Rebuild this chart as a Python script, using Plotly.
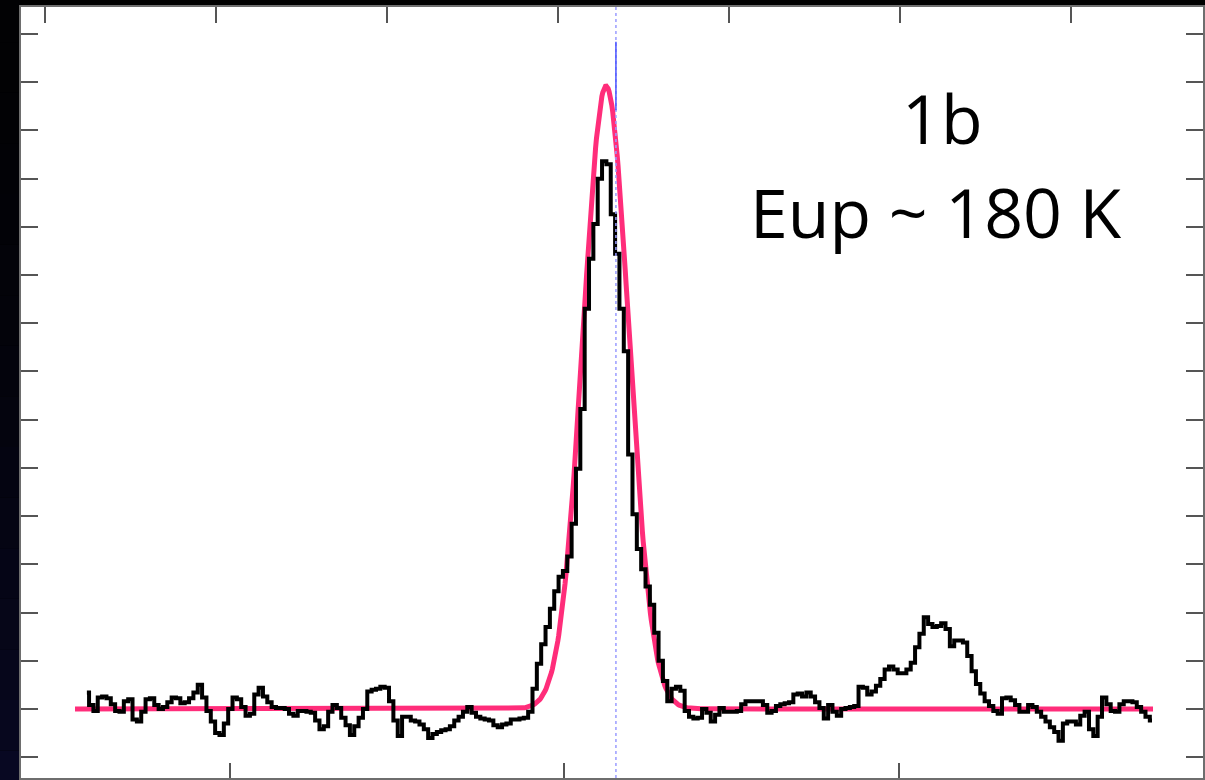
import numpy as np
import plotly.graph_objects as go

# Spectral channel grid (km/s)
V_START = -28.54
CHANNEL_WIDTH = 0.26

# Observed antenna temperature per channel (mK)
T_OBS = [
    17, 4, -2, 12, 13, 11, 5, -2, -3, 8,
    10, -11, -13, -3, 10, 11, 4, 0, 2, 7,
    12, 11, 6, 7, 11, 17, 25, 12, -2, -13,
    -25, -27, -15, 0, 12, 10, 2, -7, -5, 15,
    22, 13, 7, 2, 1, 1, 0, -5, -7, -2,
    -2, -3, -4, -12, -21, -18, -3, 4, 1, -9,
    -17, -27, -18, -9, 0, 18, 20, 21, 23, 22,
    8, -12, -28, -8, -8, -12, -13, -16, -21, -30,
    -26, -24, -22, -21, -18, -12, -8, -3, 2, -4,
    -8, -10, -11, -12, -17, -19, -16, -15, -11, -11,
    -10, -9, -3, 21, 47, 67, 85, 104, 122, 137,
    143, 158, 192, 249, 311, 415, 467, 503, 550, 568,
    565, 513, 472, 415, 371, 264, 202, 166, 145, 127,
    108, 79, 50, 29, 8, 21, 23, 19, -2, -8,
    -10, -9, 0, -4, -13, -6, 1, -3, -3, -3,
    -2, 5, 8, 8, 8, 8, 4, -4, -2, 3,
    5, 6, 7, 15, 16, 13, 17, 13, 7, 1,
    -10, 4, -3, -7, 0, 1, 2, 3, 23, 22,
    15, 18, 24, 31, 41, 44, 41, 37, 37, 41,
    48, 64, 78, 95, 88, 85, 86, 89, 83, 65,
    71, 71, 69, 55, 39, 26, 16, 8, 3, -2,
    -5, 11, 12, 9, 4, -3, -3, 4, 2, -3,
    -8, -13, -19, -24, -33, -15, -13, -13, -16, -7,
    -3, -21, -28, -8, 12, 5, -2, -3, 5, 8,
    8, 7, 2, -3, -8, -12,
]

# Gaussian fit to the main line
FIT_AMPLITUDE = 646.0   # mK
FIT_CENTER = 2.51       # km/s
FIT_SIGMA = 1.37        # km/s
FIT_V_RANGE = [-29.25, 35.22]

# Rest velocity marker of the transition
LINE_MARKER_V = 3.10
LINE_MARKER_Y = [621, 692]

LABEL_LINES = ["1b", "Eup ~ 180 K"]

v_obs = V_START + CHANNEL_WIDTH * np.arange(len(T_OBS))
v_fit = np.linspace(FIT_V_RANGE[0], FIT_V_RANGE[1], 1200)
t_fit = FIT_AMPLITUDE * np.exp(-0.5 * ((v_fit - FIT_CENTER) / FIT_SIGMA) ** 2)

fig = go.Figure()

fig.add_trace(go.Scatter(
    x=v_fit, y=t_fit, mode="lines",
    line=dict(color="#ff2d7a", width=5),
    hoverinfo="skip", showlegend=False,
))
fig.add_trace(go.Scatter(
    x=v_obs, y=T_OBS, mode="lines",
    line=dict(color="#000000", width=4, shape="hvh"),
    showlegend=False,
))
# invisible trace to carry the top (frequency offset) axis
fig.add_trace(go.Scatter(
    x=[0], y=[0], xaxis="x2", mode="markers",
    marker=dict(opacity=0), hoverinfo="skip", showlegend=False,
))

# dotted rest-velocity line across the whole panel
fig.add_shape(type="line", xref="x", yref="paper",
              x0=LINE_MARKER_V, x1=LINE_MARKER_V, y0=0, y1=1,
              line=dict(color="#9a9cff", width=1.5, dash="dot"))
# solid line-ID tick
fig.add_shape(type="line", xref="x", yref="y",
              x0=LINE_MARKER_V, x1=LINE_MARKER_V,
              y0=LINE_MARKER_Y[0], y1=LINE_MARKER_Y[1],
              line=dict(color="#4a55ff", width=1.5))

# dark margin with a faint navy tint toward the bottom of the left strip
n_bands = 16
for k in range(n_bands):
    f = (k / (n_bands - 1)) ** 1.6
    r = int(2 + 6 * f)
    g = int(2 + 6 * f)
    b = int(4 + 30 * f)
    fig.add_shape(type="rect", xref="paper", yref="paper",
                  x0=-0.03, x1=-0.0005,
                  y0=1.02 - (k + 1) * (1.05 / n_bands), y1=1.02 - k * (1.05 / n_bands),
                  fillcolor=f"rgb({r},{g},{b})", line=dict(width=0), layer="below")

fig.add_annotation(x=22.6, y=613, xref="x", yref="y", text=LABEL_LINES[0],
                   showarrow=False, xanchor="center", yanchor="middle",
                   font=dict(family="Open Sans", size=68, color="#000000"))
fig.add_annotation(x=22.27, y=516, xref="x", yref="y", text=LABEL_LINES[1],
                   showarrow=False, xanchor="center", yanchor="middle",
                   font=dict(family="Open Sans", size=68, color="#000000"))

axis_line = "#6e6e6e"
tick_col = "#555555"

fig.update_layout(
    width=1205, height=780,
    margin=dict(l=21, r=0, t=7, b=2),
    paper_bgcolor="#000000",
    plot_bgcolor="#ffffff",
    xaxis=dict(
        range=[-32.48, 38.21],
        tickvals=[-20, 0, 20], showticklabels=False,
        ticks="inside", ticklen=15, tickwidth=2, tickcolor=tick_col,
        showline=True, linecolor=axis_line, linewidth=2, mirror=True,
        showgrid=False, zeroline=False,
    ),
    xaxis2=dict(
        overlaying="x", side="top",
        range=[-3.141, 3.771],
        tickvals=[-3, -2, -1, 0, 1, 2, 3], showticklabels=False,
        ticks="inside", ticklen=16, tickwidth=2, tickcolor=tick_col,
        showline=False, showgrid=False, zeroline=False,
    ),
    yaxis=dict(
        range=[-71.6, 728],
        tick0=0, dtick=50, showticklabels=False,
        ticks="inside", ticklen=17, tickwidth=2, tickcolor=tick_col,
        showline=True, linecolor=axis_line, linewidth=2, mirror="ticks",
        showgrid=False, zeroline=False,
    ),
)

fig.write_html("out.html")
